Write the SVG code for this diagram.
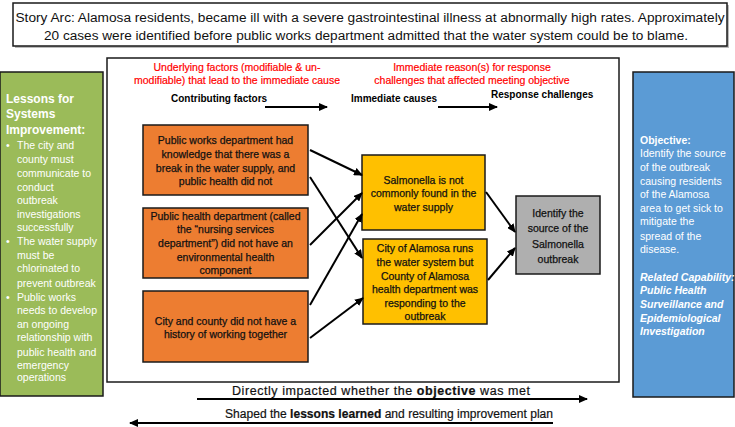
<svg xmlns="http://www.w3.org/2000/svg" width="735" height="427" viewBox="0 0 735 427">
<defs>
<marker id="ah" markerUnits="userSpaceOnUse" markerWidth="9" markerHeight="8" refX="8" refY="4" orient="auto">
<path d="M0,0 L9,4 L0,8 z" fill="#000"/>
</marker>
<style>
text{font-family:"Liberation Sans",Arial,sans-serif;}
.box{stroke:#1a1a1a;stroke-width:1.5;}
.t{font-size:10.5px;fill:#111;text-anchor:middle;stroke:#111;stroke-width:0.25;}
.w{font-size:10.5px;fill:#fff;}
.wb{font-size:12px;fill:#fff;font-weight:bold;}
.red{font-size:10.5px;fill:#ff0000;text-anchor:middle;stroke:#ff0000;stroke-width:0.2;}
.hd{font-size:10px;font-weight:bold;fill:#000;}
.conn line{stroke:#000;stroke-width:2;marker-end:url(#ah);}
.big{font-size:12.5px;fill:#111;}
.bl{font-size:12.5px;fill:#111;text-anchor:middle;stroke:#111;stroke-width:0.2;}
</style>
</defs>
<rect width="735" height="427" fill="#fff"/>

<g id="story">
<rect x="15" y="5" width="714" height="43" fill="#bbb"/>
<rect x="13" y="3" width="714" height="43" fill="#fff" class="box"/>
<text class="big" x="370" y="22" text-anchor="middle" font-size="13" textLength="709" lengthAdjust="spacingAndGlyphs">Story Arc: Alamosa residents, became ill with a severe gastrointestinal illness at abnormally high rates. Approximately</text>
<text class="big" x="366" y="40" text-anchor="middle" font-size="13" textLength="644" lengthAdjust="spacingAndGlyphs">20 cases were identified before public works department admitted that the water system could be to blame.</text>
</g>

<g id="main-frame">
<rect x="107" y="58" width="512" height="324" fill="#fff" class="box"/>
</g>

<g id="lessons">
<rect x="0" y="72" width="103" height="324" fill="#9bbb59" class="box"/>
<text class="wb" x="6" y="103">Lessons for</text>
<text class="wb" x="6" y="118">Systems</text>
<text class="wb" x="6" y="134">Improvement:</text>
<g class="w">
<text x="6" y="149" class="w">•</text>
<text x="17" y="149" class="w">The city and</text>
<text x="17" y="163" class="w">county must</text>
<text x="17" y="177" class="w">communicate to</text>
<text x="17" y="191" class="w">conduct</text>
<text x="17" y="204" class="w">outbreak</text>
<text x="17" y="218" class="w">investigations</text>
<text x="17" y="231" class="w">successfully</text>
<text x="6" y="245" class="w">•</text>
<text x="17" y="245" class="w">The water supply</text>
<text x="17" y="259" class="w">must be</text>
<text x="17" y="272" class="w">chlorinated to</text>
<text x="17" y="287" class="w">prevent outbreak</text>
<text x="6" y="301" class="w">•</text>
<text x="17" y="301" class="w">Public works</text>
<text x="17" y="314" class="w">needs to develop</text>
<text x="17" y="328" class="w">an ongoing</text>
<text x="17" y="341" class="w">relationship with</text>
<text x="17" y="356" class="w">public health and</text>
<text x="17" y="369" class="w">emergency</text>
<text x="17" y="381" class="w">operations</text>
</g>
</g>

<g id="objective">
<rect x="633" y="72" width="101" height="325" fill="#5b9bd5" class="box"/>
<text class="w" x="640" y="144" font-weight="bold">Objective:</text>
<text class="w" x="640" y="157">Identify the source</text>
<text class="w" x="640" y="171">of the outbreak</text>
<text class="w" x="640" y="185">causing residents</text>
<text class="w" x="640" y="198">of the Alamosa</text>
<text class="w" x="640" y="212">area to get sick to</text>
<text class="w" x="640" y="225">mitigate the</text>
<text class="w" x="640" y="240">spread of the</text>
<text class="w" x="640" y="253">disease.</text>
<text class="w" x="640" y="281" font-style="italic" font-weight="bold">Related Capability:</text>
<text class="w" x="640" y="294" font-style="italic" font-weight="bold">Public Health</text>
<text class="w" x="640" y="308" font-style="italic" font-weight="bold">Surveillance and</text>
<text class="w" x="640" y="322" font-style="italic" font-weight="bold">Epidemiological</text>
<text class="w" x="640" y="335" font-style="italic" font-weight="bold">Investigation</text>
</g>

<g id="headers">
<text class="red" x="237" y="71">Underlying factors (modifiable &amp; un-</text>
<text class="red" x="237" y="84">modifiable) that lead to the immediate cause</text>
<text class="red" x="472" y="71">Immediate reason(s) for response</text>
<text class="red" x="472" y="84">challenges that affected meeting objective</text>
<text class="hd" x="171" y="102">Contributing factors</text>
<text class="hd" x="351" y="102">Immediate causes</text>
<text class="hd" x="491" y="98">Response challenges</text>
</g>

<g id="cf1">
<rect x="143" y="125" width="165" height="70" fill="#ed7d31" class="box"/>
<text class="t" x="225.5" y="144">Public works department had</text>
<text class="t" x="225.5" y="158">knowledge that there was a</text>
<text class="t" x="225.5" y="171.5">break in the water supply, and</text>
<text class="t" x="225.5" y="185">public health did not</text>
</g>

<g id="cf2">
<rect x="143" y="208" width="165" height="70" fill="#ed7d31" class="box"/>
<text class="t" x="225.5" y="219.5">Public health department (called</text>
<text class="t" x="225.5" y="233">the “nursing services</text>
<text class="t" x="225.5" y="247">department”) did not have an</text>
<text class="t" x="225.5" y="260.5">environmental health</text>
<text class="t" x="225.5" y="274">component</text>
</g>

<g id="cf3">
<rect x="143" y="291" width="165" height="71" fill="#ed7d31" class="box"/>
<text class="t" x="225.5" y="324.5">City and county did not have a</text>
<text class="t" x="225.5" y="337.5">history of working together</text>
</g>

<g id="ic1">
<rect x="362" y="155" width="123" height="75" fill="#ffc000" class="box"/>
<text class="t" x="423.5" y="184">Salmonella is not</text>
<text class="t" x="423.5" y="197">commonly found in the</text>
<text class="t" x="423.5" y="211">water supply</text>
</g>

<g id="ic2">
<rect x="363" y="239" width="124" height="85" fill="#ffc000" class="box"/>
<text class="t" x="425" y="252">City of Alamosa runs</text>
<text class="t" x="425" y="266">the water system but</text>
<text class="t" x="425" y="280">County of Alamosa</text>
<text class="t" x="425" y="293">health department was</text>
<text class="t" x="425" y="307">responding to the</text>
<text class="t" x="425" y="320">outbreak</text>
</g>

<g id="rc">
<rect x="516" y="196" width="84" height="78" fill="#afafaf" class="box"/>
<text class="t" x="558" y="216.5" font-size="12.5px">Identify the</text>
<text class="t" x="558" y="232" font-size="12.5px">source of the</text>
<text class="t" x="558" y="247.5" font-size="12.5px">Salmonella</text>
<text class="t" x="558" y="263" font-size="12.5px">outbreak</text>
</g>

<g id="connectors" class="conn">
<line x1="265" y1="107" x2="327" y2="107"/>
<line x1="438" y1="107" x2="497" y2="107"/>
<line x1="310" y1="150" x2="362" y2="175"/>
<line x1="310" y1="177" x2="362" y2="258"/>
<line x1="310" y1="245" x2="362" y2="193"/>
<line x1="310" y1="305" x2="362" y2="214"/>
<line x1="310" y1="338" x2="363" y2="298"/>
<line x1="486" y1="192" x2="515" y2="232"/>
<line x1="488" y1="280" x2="515" y2="248"/>
<line x1="197" y1="399" x2="587" y2="399"/>
<line x1="553" y1="423" x2="130" y2="423"/>
</g>

<g id="bottom-labels">
<text class="bl" x="381" y="395" font-size="12px" textLength="298" lengthAdjust="spacing">Directly impacted whether the <tspan font-weight="bold">objective</tspan> was met</text>
<text class="bl" x="389" y="418" font-size="12px" textLength="328" lengthAdjust="spacingAndGlyphs">Shaped the <tspan font-weight="bold">lessons learned</tspan> and resulting improvement plan</text>
</g>
</svg>
